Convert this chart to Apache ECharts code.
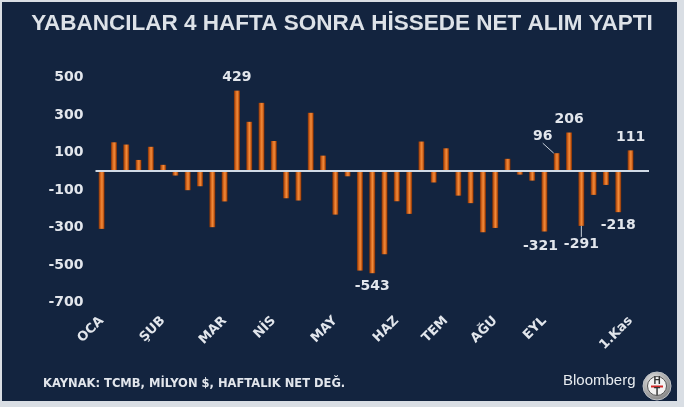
<!DOCTYPE html>
<html><head><meta charset="utf-8">
<script src="https://cdn.jsdelivr.net/npm/echarts@6/dist/echarts.min.js"></script>
<style>html,body{margin:0;padding:0;background:#d9dee4}#c{width:684px;height:407px}</style>
</head><body><div id="c"></div>
<script>
const titleText = 'YABANCILAR 4 HAFTA SONRA HİSSEDE NET ALIM YAPTI';
const sourceText = 'KAYNAK: TCMB, MİLYON $, HAFTALIK NET DEĞ.';
const monthNames = ['OCA', 'ŞUB', 'MAR', 'NİS', 'MAY', 'HAZ', 'TEM', 'AĞU', 'EYL', '1.Kas'];
const monthWeekIndex = [0, 5, 10, 14, 19, 24, 28, 32, 36, 43];
const weeklyNet = [-307, 154, 142, 60, 130, 34, -23, -101, -80, -298, -161,
  429, 263, 364, 161, -144, -156, 311, 83, -231, -27, -529, -543, -442,
  -160, -227, 158, -60, 122, -130, -170, -325, -302, 66, -18, -50, -321,
  96, 206, -291, -126, -73, -218, 111];
const labeledWeeks = [11, 22, 36, 37, 38, 39, 42, 43];
const yMin = -700, yMax = 500, yStep = 200;

// category list: one per week plus one empty slot at the end
const categories = [];
for (let i = 0; i <= weeklyNet.length; i++) {
  const k = monthWeekIndex.indexOf(i);
  categories.push(k >= 0 ? monthNames[k] : '');
}
// label displacement styles (presentation only)
const labelShift = { 36: [-4, 2], 37: [-14, -4], 39: [0, 5] };
const guideLines = [37, 39];

const chart = echarts.init(document.getElementById('c'), null, { renderer: 'canvas' });
const txtCol = '#e2e6ec';
const barGrad = new echarts.graphic.LinearGradient(0, 0, 1, 0, [
  { offset: 0, color: '#7a3008' }, { offset: 0.3, color: '#d8661c' },
  { offset: 0.55, color: '#f08c3c' }, { offset: 0.8, color: '#c85a14' },
  { offset: 1, color: '#6a2806' }]);

const seriesData = weeklyNet.map((v, i) => {
  if (labeledWeeks.indexOf(i) < 0) return v;
  return {
    value: v,
    label: { show: true, position: v >= 0 ? 'top' : 'bottom' },
    labelLine: { show: guideLines.indexOf(i) >= 0 }
  };
});

chart.setOption({
  backgroundColor: '#d9dee4',
  animation: false,
  title: {
    text: titleText, left: 'center', top: 7,
    textStyle: { fontFamily: 'Liberation Sans', fontWeight: 'bold', fontSize: 22.5, color: '#dde2e8' }
  },
  graphic: [
    { type: 'rect', z: -10, shape: { x: 2, y: 2, width: 675, height: 399 }, style: { fill: '#13243f' } },
    { type: 'text', left: 43, top: 378, style: { text: sourceText, fill: txtCol, font: 'bold 11.5px "DejaVu Sans"' } },
    { type: 'text', left: 563, top: 373, style: { text: 'Bloomberg', fill: '#e8ecf0', font: '15px "Liberation Sans"' } },
    { type: 'circle', shape: { cx: 657, cy: 386, r: 14 }, style: { fill: new echarts.graphic.RadialGradient(0.4, 0.35, 0.8, [{ offset: 0, color: '#f0f0f0' }, { offset: 1, color: '#6c6c6c' }]), stroke: '#bfc3c8', lineWidth: 1 } },
    { type: 'circle', shape: { cx: 657, cy: 386, r: 9.5 }, style: { fill: '#f2f2f2', stroke: '#555', lineWidth: 1 } },
    { type: 'text', x: 657, y: 381, style: { text: 'H', fill: '#333', font: 'bold 10px "Liberation Sans"', align: 'center', verticalAlign: 'middle' } },
    { type: 'rect', shape: { x: 651, y: 385.5, width: 12, height: 2 }, style: { fill: '#d02828' } },
    { type: 'text', x: 657, y: 392, style: { text: 'T', fill: '#333', font: 'bold 10px "Liberation Sans"', align: 'center', verticalAlign: 'middle' } }
  ],
  grid: { left: 95.5, right: 35, top: 77.3, bottom: 104.3 },
  xAxis: {
    type: 'category', data: categories,
    axisLine: { show: false }, axisTick: { show: false },
    axisLabel: { interval: 0, rotate: 45, margin: 16, color: txtCol, fontFamily: 'DejaVu Sans', fontWeight: 'bold', fontSize: 13 }
  },
  yAxis: {
    type: 'value', min: yMin, max: yMax, interval: yStep,
    splitLine: { show: false }, axisLine: { show: false }, axisTick: { show: false },
    axisLabel: { margin: 12, color: txtCol, fontFamily: 'DejaVu Sans', fontWeight: 'bold', fontSize: 14 }
  },
  series: [{
    type: 'bar', data: seriesData, barWidth: 6,
    itemStyle: { color: barGrad },
    label: { show: false, distance: 6, color: txtCol, fontFamily: 'DejaVu Sans', fontWeight: 'bold', fontSize: 14 },
    labelLine: { show: false, lineStyle: { color: '#c8d0da', width: 1 } },
    labelLayout: function (p) {
      const s = labelShift[p.dataIndex];
      return s ? { dx: s[0], dy: s[1] } : {};
    },
    markLine: {
      silent: true, symbol: 'none', label: { show: false },
      lineStyle: { color: '#d0dae6', width: 2, type: 'solid' },
      data: [{ yAxis: 0 }]
    }
  }]
});
</script></body></html>
